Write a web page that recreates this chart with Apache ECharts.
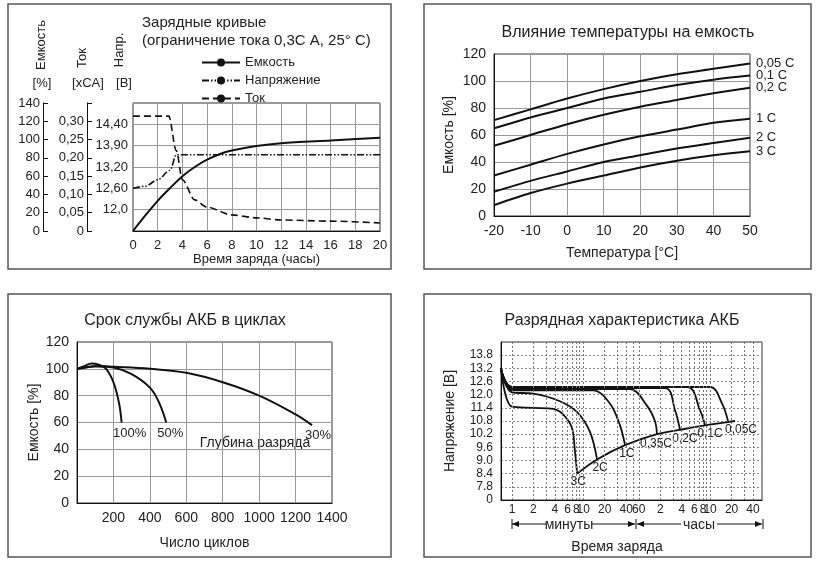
<!DOCTYPE html>
<html>
<head>
<meta charset="utf-8">
<script src="https://cdn.jsdelivr.net/npm/echarts@6/dist/echarts.min.js"></script>
<style>
  html, body { margin: 0; padding: 0; background: #fff; }
  #chart { width: 822px; height: 566px; }
</style>
</head>
<body>
<div id="chart"></div>
<script>
// ---- panel 1: charge curves (x = hours) ----
var capHours = [0, 1, 2, 3, 4, 5, 6, 7, 8, 10, 12, 16, 20];
var capValues = [0, 17, 33, 47, 60, 70, 78, 84, 88, 93, 96, 99, 102];
var voltHours = [0, 1, 2, 3, 3.5, 20];
var voltValues = [12.6, 12.66, 12.84, 13.11, 13.6, 13.6];
var curHours = [0, 2.9, 3.5, 4, 5, 6, 8, 10, 12, 16, 20];
var curValues = [0.314, 0.314, 0.22, 0.14, 0.085, 0.065, 0.044, 0.036, 0.03, 0.027, 0.022];
var voltTicks = [12.0, 12.6, 13.2, 13.9, 14.4];
var voltLabels = ['', '12,0', '12,60', '13,20', '13,90', '14,40', ''];

// ---- panel 2: temperature influence ----
var temps = [-20, -10, 0, 10, 20, 30, 40, 50];
var tempNames = ['0,05 C', '0,1 C', '0,2 C', '1 C', '2 C', '3 C'];
var tempValues = [
  [71, 79, 87, 94, 100, 105, 109, 113],
  [65, 73, 80, 87, 92, 97, 101, 104],
  [52, 60, 68, 75, 81, 86, 91, 95],
  [30, 38, 46, 53, 59, 64, 69, 72],
  [18, 26, 33, 40, 45, 50, 54, 58],
  [8, 17, 24, 30, 36, 41, 45, 48]
];

// ---- panel 3: cycle life ----
var cycleNames = ['100%', '50%', '30%'];
var cycleValues = [
  [[0, 100], [40, 102], [80, 104], [120, 103], [160, 100], [200, 90], [230, 75], [245, 60]],
  [[0, 100], [50, 101], [100, 102], [200, 101], [300, 96], [400, 86], [450, 75], [490, 60]],
  [[0, 100], [100, 102], [200, 101.5], [400, 100], [600, 97], [800, 90], [1000, 80], [1200, 66], [1290, 58]]
];
var cycleLabelOffsets = [[8, 4], [4, 4], [6, 4]];

// ---- panel 4: discharge (x = minutes, log scale) ----
var dischNames = ['3C', '2C', '1C', '0,35C', '0,2C', '0,1C', '0,05C'];
var dischValues = [
  [[0.7, 13.2], [1, 11.45], [2, 11.4], [3.8, 11.35], [5.2, 11.1], [6.9, 10.5], [7.6, 9.5], [8.2, 8.4]],
  [[0.7, 13.2], [1, 12.1], [2, 12.05], [4.7, 11.7], [8.2, 11.2], [12.4, 10.3], [15.6, 9.05]],
  [[0.7, 13.2], [1, 12.2], [13.7, 12.2], [23.6, 11.6], [32.7, 10.6], [38.5, 9.7]],
  [[0.7, 13.2], [1, 12.25], [45, 12.25], [78, 11.5], [101, 10.8], [108, 10.2]],
  [[0.7, 13.2], [1, 12.3], [140, 12.3], [193, 11.3], [227, 10.4]],
  [[0.7, 13.2], [1, 12.35], [285, 12.35], [433, 11.3], [509, 10.6]],
  [[0.7, 13.2], [1, 12.35], [598, 12.35], [881, 11.6], [1070, 10.8]]
];
var dischLabelOffsets = [[1, 8], [3, 8], [2, 9], [-1, 10], [5, 9], [5, 8], [13, 9]];
var cutoffValues = [[8.2, 8.4], [15.6, 9.05], [38.5, 9.7], [108, 10.2], [227, 10.4], [509, 10.6], [1070, 10.75], [1345, 10.8]];
var timeTicks = [1, 2, 4, 6, 8, 10, 20, 40, 60, 120, 240, 360, 480, 600, 1200, 2400];
var timeGrid = [1, 2, 3, 4, 5, 6, 7, 8, 9, 10, 20, 30, 40, 50, 60, 120, 180, 240, 300, 360, 420, 480, 540, 600, 1200, 1800, 2400];

var FONT = 'Liberation Sans, Arial, sans-serif';
var INK = '#222';

// voltage in volts -> position on the (nonlinear) tick scale of panel 1
function voltPos(v) {
  for (var i = 0; i < voltTicks.length - 1; i += 1) {
    if (v <= voltTicks[i + 1]) {
      return i + 1 + (v - voltTicks[i]) / (voltTicks[i + 1] - voltTicks[i]);
    }
  }
  return voltTicks.length;
}
function zip(xs, ys, f) {
  return xs.map(function (x, i) { return [x, f ? f(ys[i]) : ys[i]]; });
}
function logPts(pts) {
  return pts.map(function (p) { return [Math.log10(p[0]), p[1]]; });
}
function comma(v) { return String(v).replace('.', ','); }

var lab = { color: INK, fontFamily: FONT, fontSize: 13 };
var gridLine = { show: true, lineStyle: { color: '#999', width: 1 } };
var blackLine = { onZero: false, lineStyle: { color: '#111', width: 1 } };

var series = [];
// panel 1
series.push({
  name: 'Емкость', type: 'line', xAxisIndex: 0, yAxisIndex: 1,
  data: zip(capHours, capValues), smooth: 0.3, symbol: 'none',
  lineStyle: { color: '#111', width: 2 }, itemStyle: { color: '#111' }
});
series.push({
  name: 'Напряжение', type: 'line', xAxisIndex: 0, yAxisIndex: 0,
  data: zip(voltHours, voltValues, voltPos), smooth: 0.3, smoothMonotone: 'x', symbol: 'none',
  lineStyle: { color: '#111', width: 1.6, type: [7, 2, 1.5, 2, 1.5, 2] }, itemStyle: { color: '#111' }
});
series.push({
  name: 'Ток', type: 'line', xAxisIndex: 0, yAxisIndex: 2,
  data: zip(curHours, curValues), smooth: 0.3, smoothMonotone: 'x', symbol: 'none',
  lineStyle: { color: '#111', width: 1.6, type: [7, 4] }, itemStyle: { color: '#111' }
});
// panel 2
tempNames.forEach(function (n, i) {
  series.push({
    name: n, type: 'line', xAxisIndex: 1, yAxisIndex: 3,
    data: zip(temps, tempValues[i]), smooth: 0.3, symbol: 'none',
    lineStyle: { color: '#111', width: 2 },
    endLabel: { show: true, formatter: n, color: INK, fontFamily: FONT, fontSize: 13, distance: 6 }
  });
});
// panel 3
cycleNames.forEach(function (n, i) {
  series.push({
    name: n, type: 'line', xAxisIndex: 2, yAxisIndex: 4,
    data: cycleValues[i], smooth: 0.4, symbol: 'none',
    lineStyle: { color: '#111', width: 2 },
    endLabel: {
      show: true, formatter: n, color: INK, fontFamily: FONT, fontSize: 13,
      distance: 0, align: 'center', verticalAlign: 'top', offset: cycleLabelOffsets[i]
    }
  });
});
// panel 4
dischNames.forEach(function (n, i) {
  series.push({
    name: n, type: 'line', xAxisIndex: 3, yAxisIndex: 5,
    data: logPts(dischValues[i]), smooth: 0.35, symbol: 'none',
    lineStyle: { color: '#111', width: 1.8 },
    endLabel: {
      show: true, formatter: n, color: INK, fontFamily: FONT, fontSize: 12,
      distance: 0, align: 'center', verticalAlign: 'middle', offset: dischLabelOffsets[i]
    }
  });
});
series.push({
  name: 'cutoff', type: 'line', xAxisIndex: 3, yAxisIndex: 5,
  data: logPts(cutoffValues), smooth: 0.4, symbol: 'none',
  lineStyle: { color: '#111', width: 1.8 },
  markLine: {
    silent: true, symbol: 'none', label: { show: false },
    lineStyle: { color: '#777', width: 1, type: [2, 2] },
    data: timeGrid.map(function (m) { return { xAxis: Math.log10(m) }; })
  }
});

function frame(x, y, w, h) {
  return { type: 'rect', shape: { x: x, y: y, width: w, height: h }, style: { fill: null, stroke: '#555', lineWidth: 1.5 } };
}
function txt(x, y, s, opts) {
  var style = { x: x, y: y, text: s, fill: INK, font: '13px ' + FONT, textAlign: 'left', textVerticalAlign: 'middle' };
  for (var k in (opts || {})) { style[k] = opts[k]; }
  return { type: 'text', style: style };
}
function vtxt(x, y, s) {
  return { type: 'text', x: x, y: y, rotation: Math.PI / 2, style: { x: 0, y: 0, text: s, fill: INK, font: '13px ' + FONT, textAlign: 'center', textVerticalAlign: 'middle' } };
}
function hline(x1, x2, y) {
  return { type: 'line', shape: { x1: x1, y1: y, x2: x2, y2: y }, style: { stroke: '#111', lineWidth: 1 } };
}
function arrow(x, y, dir) {
  return { type: 'polygon', shape: { points: [[x, y], [x - dir * 7, y - 3], [x - dir * 7, y + 3]] }, style: { fill: '#111' } };
}

var chart = echarts.init(document.getElementById('chart'), null, { renderer: 'canvas' });
chart.setOption({
  animation: false,
  backgroundColor: '#fff',
  textStyle: { fontFamily: FONT, color: INK },
  title: [
    { text: 'Зарядные кривые', left: 137, top: 10, textStyle: { fontSize: 15, fontWeight: 'normal', color: INK } },
    { text: '(ограничение тока 0,3С А, 25° С)', left: 137, top: 28, textStyle: { fontSize: 15, fontWeight: 'normal', color: INK } },
    { text: 'Влияние температуры на емкость', left: 623, top: 20, textAlign: 'center', textStyle: { fontSize: 16, fontWeight: 'normal', color: INK } },
    { text: 'Срок службы АКБ в циклах', left: 180, top: 308, textAlign: 'center', textStyle: { fontSize: 16, fontWeight: 'normal', color: INK } },
    { text: 'Разрядная характеристика АКБ', left: 617, top: 308, textAlign: 'center', textStyle: { fontSize: 16, fontWeight: 'normal', color: INK } }
  ],
  legend: {
    data: ['Емкость', 'Напряжение', 'Ток'], orient: 'vertical', left: 196, top: 51,
    itemWidth: 38, itemHeight: 10, itemGap: 5,
    textStyle: { fontSize: 13, color: INK, fontFamily: FONT }, selectedMode: false
  },
  grid: [
    { left: 133, top: 103, width: 247, height: 128, show: true, borderColor: '#333', borderWidth: 1 },
    { left: 494, top: 54, width: 256, height: 162, show: true, borderColor: '#333', borderWidth: 1 },
    { left: 77, top: 342, width: 255, height: 161, show: true, borderColor: '#333', borderWidth: 1 },
    { left: 501, top: 342, width: 261, height: 158, show: true, borderColor: '#333', borderWidth: 1 }
  ],
  xAxis: [
    { gridIndex: 0, type: 'value', min: 0, max: 20, interval: 2, axisLine: blackLine, axisTick: { show: false },
      axisLabel: lab, splitLine: gridLine,
      name: 'Время заряда (часы)', nameLocation: 'middle', nameGap: 20, nameTextStyle: lab },
    { gridIndex: 1, type: 'value', min: -20, max: 50, interval: 10, axisLine: blackLine, axisTick: { show: false },
      axisLabel: { color: INK, fontFamily: FONT, fontSize: 14 }, splitLine: gridLine,
      name: 'Температура [°C]', nameLocation: 'middle', nameGap: 30, nameTextStyle: { color: INK, fontFamily: FONT, fontSize: 14 } },
    { gridIndex: 2, type: 'value', min: 0, max: 1400, interval: 200, axisLine: blackLine, axisTick: { show: false },
      axisLabel: { color: INK, fontFamily: FONT, fontSize: 14, formatter: function (v) { return v === 0 ? '' : v; } },
      splitLine: gridLine,
      name: 'Число циклов', nameLocation: 'middle', nameGap: 33, nameTextStyle: { color: INK, fontFamily: FONT, fontSize: 14 } },
    { gridIndex: 3, type: 'value', min: -0.154, max: 3.506, axisLine: blackLine,
      axisTick: { show: false },
      axisLabel: {
        color: INK, fontFamily: FONT, fontSize: 12, margin: 4,
        customValues: timeTicks.map(function (m) { return Math.log10(m); }),
        formatter: function (v) {
          var m = Math.round(Math.pow(10, v));
          return String(m <= 60 ? m : Math.round(m / 60));
        }
      },
      splitLine: { show: false } }
  ],
  yAxis: [
    { gridIndex: 0, type: 'value', min: 0, max: 6, interval: 1, position: 'left',
      axisLine: { show: false }, axisTick: { show: false },
      axisLabel: { color: INK, fontFamily: FONT, fontSize: 13, margin: 5, formatter: function (v) { return voltLabels[v]; } },
      splitLine: gridLine },
    { gridIndex: 0, type: 'value', min: 0, max: 140, interval: 20, position: 'left', offset: 90,
      axisLine: { show: true, lineStyle: { color: '#111' } }, axisTick: { show: true, inside: true, length: 5, lineStyle: { color: '#111' } },
      axisLabel: { color: INK, fontFamily: FONT, fontSize: 13, margin: 3 }, splitLine: { show: false } },
    { gridIndex: 0, type: 'value', min: 0, max: 0.35, interval: 0.05, position: 'left', offset: 46,
      axisLine: { show: true, lineStyle: { color: '#111' } }, axisTick: { show: true, inside: true, length: 5, lineStyle: { color: '#111' } },
      axisLabel: { color: INK, fontFamily: FONT, fontSize: 13, margin: 3,
        formatter: function (v) { return v === 0 ? '0' : (v > 0.34 ? '' : comma(v.toFixed(2))); } },
      splitLine: { show: false } },
    { gridIndex: 1, type: 'value', min: 0, max: 120, interval: 20, axisLine: blackLine, axisTick: { show: false },
      axisLabel: { color: INK, fontFamily: FONT, fontSize: 14 }, splitLine: gridLine,
      name: 'Емкость [%]', nameLocation: 'middle', nameGap: 38, nameTextStyle: { color: INK, fontFamily: FONT, fontSize: 14 } },
    { gridIndex: 2, type: 'value', min: 0, max: 120, interval: 20, axisLine: blackLine, axisTick: { show: false },
      axisLabel: { color: INK, fontFamily: FONT, fontSize: 14 }, splitLine: gridLine,
      name: 'Емкость [%]', nameLocation: 'middle', nameGap: 36, nameTextStyle: { color: INK, fontFamily: FONT, fontSize: 14 } },
    { gridIndex: 3, type: 'value', min: 7.2, max: 14.4, interval: 0.6, axisLine: blackLine, axisTick: { show: false },
      axisLabel: { color: INK, fontFamily: FONT, fontSize: 12,
        formatter: function (v) { return v < 7.3 ? '0' : (v > 14.3 ? '' : v.toFixed(1)); } },
      splitLine: { show: true, lineStyle: { color: '#888', width: 1, type: [2, 2] } },
      name: 'Напряжение [В]', nameLocation: 'middle', nameGap: 44, nameTextStyle: { color: INK, fontFamily: FONT, fontSize: 14 } }
  ],
  graphic: [
    frame(8, 4, 383, 265), frame(424, 4, 387, 265), frame(8, 294, 383, 263), frame(424, 294, 387, 263),
    vtxt(41, 45, 'Емкость'), vtxt(82, 58, 'Ток'), vtxt(119, 50, 'Напр.'),
    txt(42, 83, '[%]', { textAlign: 'center' }), txt(88, 83, '[xCA]', { textAlign: 'center' }), txt(124, 83, '[B]', { textAlign: 'center' }),
    txt(255, 443, 'Глубина разряда', { textAlign: 'center', font: '14px ' + FONT }),
    hline(512, 546, 524), hline(592, 635, 524), arrow(512, 524, -1), arrow(635, 524, 1),
    { type: 'line', shape: { x1: 512, y1: 519, x2: 512, y2: 529 }, style: { stroke: '#111' } },
    { type: 'line', shape: { x1: 636, y1: 519, x2: 636, y2: 529 }, style: { stroke: '#111' } },
    txt(569, 525, 'минуты', { textAlign: 'center', font: '14px ' + FONT }),
    hline(637, 681, 524), hline(717, 762, 524), arrow(637, 524, -1), arrow(762, 524, 1),
    { type: 'line', shape: { x1: 763, y1: 519, x2: 763, y2: 529 }, style: { stroke: '#111' } },
    txt(699, 525, 'часы', { textAlign: 'center', font: '14px ' + FONT }),
    txt(617, 547, 'Время заряда', { textAlign: 'center', font: '14px ' + FONT })
  ],
  series: series
});
</script>
</body>
</html>
